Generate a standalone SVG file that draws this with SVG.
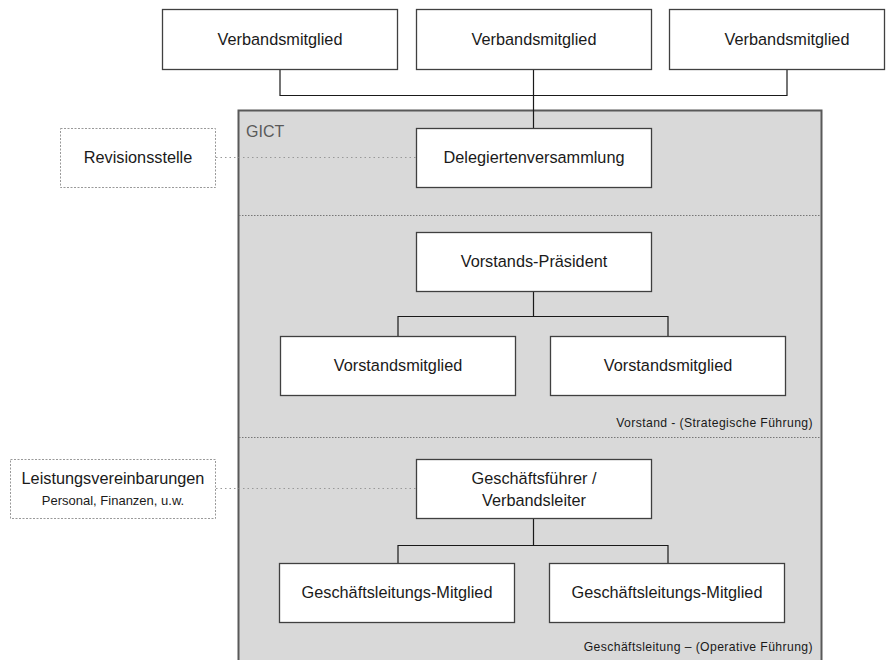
<svg xmlns="http://www.w3.org/2000/svg" width="893" height="660" viewBox="0 0 893 660">
<style>
.box{fill:#fff;stroke:#404040;stroke-width:1.3}
.note{fill:#fff;stroke:#999;stroke-width:1;stroke-dasharray:2 1.5}
.t{font-family:"Liberation Sans",Arial,sans-serif;font-size:16.3px;fill:#1a1a1a;text-anchor:middle}
.s{font-family:"Liberation Sans",Arial,sans-serif;font-size:12.2px;letter-spacing:0.4px;fill:#1a1a1a;text-anchor:end}
.c{fill:none;stroke:#1a1a1a;stroke-width:1.2}
.d{fill:none;stroke:#999;stroke-width:1.2;stroke-dasharray:1.5 3}
.sep{fill:none;stroke:#777;stroke-width:1;stroke-dasharray:1.5 1.5}
</style>
<rect width="893" height="660" fill="#fff"/>
<g id="gict">
<rect x="238.5" y="110.5" width="583" height="560" fill="#d9d9d9" stroke="#595959" stroke-width="2"/>
<text x="246" y="137" style="font-family:'Liberation Sans',Arial,sans-serif;font-size:16px;fill:#595959">GICT</text>
<line class="sep" x1="239" y1="215.5" x2="821" y2="215.5"/>
<line class="sep" x1="239" y1="437.5" x2="821" y2="437.5"/>
<text class="s" x="813" y="427">Vorstand - (Strategische Führung)</text>
<text class="s" x="813" y="651">Geschäftsleitung – (Operative Führung)</text>
</g>
<g id="connectors">
<path class="c" d="M280 69 V95.5 H787 V69 M533.5 69 V128"/>
<path class="c" d="M533.5 291 V316.5 H398 V336 M533.5 316.5 H668 V336"/>
<path class="c" d="M533.5 518 V545.5 H398 V563 M533.5 545.5 H668 V563"/>
<line class="d" x1="216" y1="157.5" x2="416" y2="157.5"/>
<line class="d" x1="216" y1="488.5" x2="416" y2="488.5"/>
</g>
<g id="vm1"><rect class="box" x="162.5" y="9.5" width="235" height="60"/><text class="t" x="280" y="45">Verbandsmitglied</text></g>
<g id="vm2"><rect class="box" x="416.5" y="9.5" width="235" height="60"/><text class="t" x="534" y="45">Verbandsmitglied</text></g>
<g id="vm3"><rect class="box" x="669.5" y="9.5" width="215" height="60"/><text class="t" x="787" y="45">Verbandsmitglied</text></g>
<g id="revision"><rect class="note" x="60.5" y="128.5" width="155" height="59"/><text class="t" x="138" y="163">Revisionsstelle</text></g>
<g id="delegierte"><rect class="box" x="416.5" y="128.5" width="235" height="59"/><text class="t" x="534" y="163">Delegiertenversammlung</text></g>
<g id="praesident"><rect class="box" x="416.5" y="232.5" width="235" height="59"/><text class="t" x="534" y="267">Vorstands-Präsident</text></g>
<g id="vorstand1"><rect class="box" x="280.5" y="336.5" width="235" height="59"/><text class="t" x="398" y="371">Vorstandsmitglied</text></g>
<g id="vorstand2"><rect class="box" x="550.5" y="336.5" width="235" height="59"/><text class="t" x="668" y="371">Vorstandsmitglied</text></g>
<g id="leistung"><rect class="note" x="10.5" y="459.5" width="205" height="59"/><text class="t" x="113" y="484">Leistungsvereinbarungen</text><text class="t" x="113" y="505" style="font-size:13px">Personal, Finanzen, u.w.</text></g>
<g id="gf"><rect class="box" x="416.5" y="459.5" width="235" height="59"/><text class="t" x="534" y="484">Geschäftsführer /</text><text class="t" x="534" y="506">Verbandsleiter</text></g>
<g id="gl1"><rect class="box" x="279.5" y="563.5" width="235" height="59"/><text class="t" x="397" y="598">Geschäftsleitungs-Mitglied</text></g>
<g id="gl2"><rect class="box" x="549.5" y="563.5" width="235" height="59"/><text class="t" x="667" y="598">Geschäftsleitungs-Mitglied</text></g>
</svg>
